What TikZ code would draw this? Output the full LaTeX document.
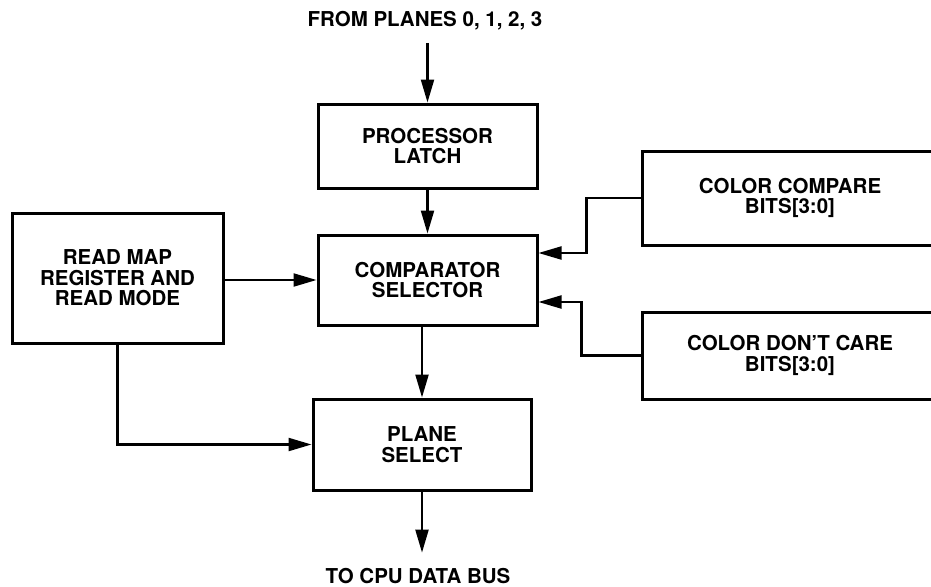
\documentclass[tikz,border=0pt]{standalone}
\usepackage{fontspec}
\setmainfont{TeX Gyre Heros}
\usepackage{tikz}
\usetikzlibrary{arrows.meta}
\tikzstyle{Block}=[rectangle, draw=black, line width=3pt, inner sep=0, align=center, font=\bfseries\fontsize{20.5}{20.5}\selectfont]
\tikzstyle{Label}=[inner xsep=0, align=center, font=\bfseries\fontsize{20.5}{20.5}\selectfont]
\tikzstyle{Wire}=[line width=2.2pt, -{Triangle[length=23pt, width=13pt]}]

\begin{document}
\begin{tikzpicture}[x=1pt, y=-1pt]
    \clip (0,0) rectangle (931,586);
    \path
    (425,27) node[Label, anchor=base, inner ysep=12pt] (src) {FROM PLANES 0, 1, 2, 3}
    (427.5,146) node[Block, minimum width=219, minimum height=84] (latch) {PROCESSOR\\LATCH}
    (427.5,280) node[Block, minimum width=219, minimum height=90] (comp) {COMPARATOR\\SELECTOR}
    (117.5,278) node[Block, minimum width=211, minimum height=130] (readmap) {READ MAP\\REGISTER AND\\READ MODE}
    (422,444.5) node[Block, minimum width=218, minimum height=91] (plane) {PLANE\\SELECT};

    \path
    (790,198) node[Block, minimum width=296, minimum height=94] (cmpbits) {COLOR COMPARE\\BITS[3:0]}
    (790,355.5) node[Block, minimum width=296, minimum height=87] (dcbits) {COLOR DON'T CARE\\BITS[3:0]}
    (418,583) node[Label, anchor=base, inner ysep=15pt] (dest) {TO CPU DATA BUS};

    % data path
    \draw[Wire] (src.south -| latch.north) -- (latch.north);
    \draw[Wire] (latch) -- (comp);
    \draw[Wire] (comp.south -| plane.north) -- (plane.north);
    \draw[Wire] (plane.south) -- (plane.south |- dest.north);

    % control inputs
    \draw[Wire] (readmap.east |- comp.west) -- (comp.west);
    \draw[Wire] (readmap.south) |- (plane.west);
    \coordinate (cmpin) at ([yshift=27pt]comp.east);
    \coordinate (dcin) at ([yshift=-22pt]comp.east);
    \draw[Wire] (cmpbits.west) -- ++(-54,0) |- (cmpin);
    \draw[Wire] (dcbits.west) -- ++(-59,0) |- (dcin);
\end{tikzpicture}
\end{document}
